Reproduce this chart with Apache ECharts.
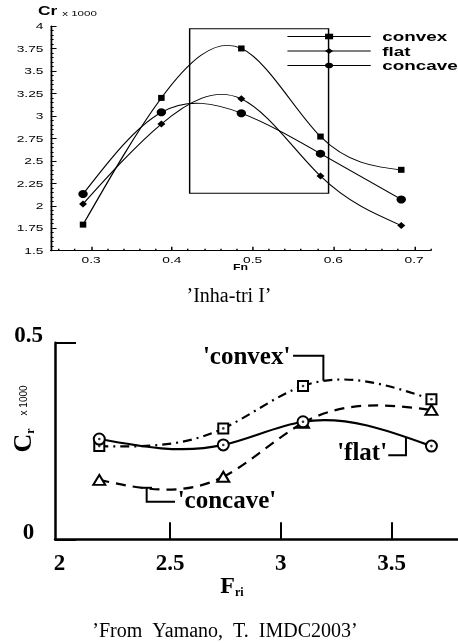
<!DOCTYPE html>
<html>
<head>
<meta charset="utf-8">
<script src="https://cdn.jsdelivr.net/npm/echarts@6/dist/echarts.min.js"></script>
<style>
html, body { margin: 0; padding: 0; background: #fff; }
#wrap { position: relative; width: 458px; height: 643px; overflow: hidden; }
#lower { position: absolute; left: 0; top: 0; width: 458px; height: 643px; }
#upper { position: absolute; left: 0; top: 0; width: 316px; height: 290px;
         transform: scaleX(1.4494); transform-origin: 0 0; }
</style>
</head>
<body>
<div id="wrap"><div id="lower"></div><div id="upper"></div></div>
<script>
// ---- Inha-tri I : residual resistance coefficient vs Froude number ----
const fnValues   = [0.29, 0.387, 0.486, 0.584, 0.684];
const crConvex   = [1.79, 3.20, 3.75, 2.77, 2.40];
const crFlat     = [2.02, 2.91, 3.19, 2.33, 1.78];
const crConcave  = [2.13, 3.04, 3.03, 2.58, 2.07];
const fnMajorTicks = [0.3, 0.4, 0.5, 0.6, 0.7];
const fnMinorTicks = [0.26, 0.28, 0.32, 0.34, 0.36, 0.38, 0.42, 0.44, 0.46, 0.48,
                      0.52, 0.54, 0.56, 0.58, 0.62, 0.64, 0.66, 0.68, 0.72];
// highlighted Fn / Cr window
const windowFn = [0.422, 0.594];
const windowCr = [2.14, 3.97];

// ---- Yamano, IMDC2003 : Cr vs Fri ----
const friValues  = [2.18, 2.74, 3.10, 3.68];
const cfConvex   = [0.237, 0.282, 0.390, 0.356];
const cfFlat     = [0.255, 0.240, 0.299, 0.237];
const cfConcave  = [0.151, 0.159, 0.296, 0.329];
const friLabels  = [2, 2.5, 3, 3.5];
const friTicks   = [2.5, 3, 3.5];

const pairs = (xs, ys) => xs.map((x, i) => [x, ys[i]]);

const SANS = 'Liberation Sans, Arial, sans-serif';
const SERIF = 'Liberation Serif, Times New Roman, serif';

// Slopes of the natural cubic spline through (xs, ys).
function splineSlopes(xs, ys) {
  const n = xs.length, h = [], d = [];
  for (let i = 0; i < n - 1; i++) { h[i] = xs[i + 1] - xs[i]; d[i] = (ys[i + 1] - ys[i]) / h[i]; }
  const M = new Array(n).fill(0);
  if (n > 2) {
    const a = [], b = [], c = [], r = [];
    for (let i = 1; i < n - 1; i++) {
      a.push(h[i - 1]); b.push(2 * (h[i - 1] + h[i])); c.push(h[i]); r.push(6 * (d[i] - d[i - 1]));
    }
    const m = b.length;
    for (let i = 1; i < m; i++) { const w = a[i] / b[i - 1]; b[i] -= w * c[i - 1]; r[i] -= w * r[i - 1]; }
    const sol = new Array(m);
    sol[m - 1] = r[m - 1] / b[m - 1];
    for (let i = m - 2; i >= 0; i--) sol[i] = (r[i] - c[i] * sol[i + 1]) / b[i];
    for (let i = 1; i < n - 1; i++) M[i] = sol[i - 1];
  }
  const s = [];
  for (let i = 0; i < n - 1; i++) s[i] = d[i] - h[i] * (2 * M[i] + M[i + 1]) / 6;
  s[n - 1] = d[n - 2] + h[n - 2] * (M[n - 2] + 2 * M[n - 1]) / 6;
  return s;
}

// Custom series: each item draws the spline piece to the next item as one Bezier.
function splineCurve(xs, ys, style, z) {
  const s = splineSlopes(xs, ys);
  return {
    type: 'custom', data: pairs(xs, ys), encode: { x: 0, y: 1 }, silent: true, z,
    renderItem(params, api) {
      const i = params.dataIndex;
      if (i >= xs.length - 1) return null;
      const hh = (xs[i + 1] - xs[i]) / 3;
      const p0 = api.coord([xs[i], ys[i]]);
      const p1 = api.coord([xs[i + 1], ys[i + 1]]);
      const c0 = api.coord([xs[i] + hh, ys[i] + hh * s[i]]);
      const c1 = api.coord([xs[i + 1] - hh, ys[i + 1] - hh * s[i + 1]]);
      return {
        type: 'bezierCurve',
        shape: { x1: p0[0], y1: p0[1], x2: p1[0], y2: p1[1],
                 cpx1: c0[0], cpy1: c0[1], cpx2: c1[0], cpy2: c1[1] },
        style: Object.assign({ fill: 'none', stroke: '#000' }, style)
      };
    }
  };
}

/* ---------------- upper chart (drawn narrow, widened by CSS) ---------------- */
const upper = echarts.init(document.getElementById('upper'), null,
  { renderer: 'svg', width: 316, height: 290 });

function upperMarks(name, ys, symbol, size, extra) {
  return Object.assign({
    name, type: 'line', data: pairs(fnValues, ys),
    symbol, symbolSize: size, showSymbol: true,
    lineStyle: { color: '#000', width: 1, opacity: 0 },
    itemStyle: { color: '#000', borderWidth: 0 },
    z: 4
  }, extra || {});
}

upper.setOption({
  animation: false,
  textStyle: { fontFamily: SANS, color: '#000' },
  grid: { left: 35, right: 19.1, top: 26, bottom: 39.3, outerBoundsMode: 'none' },
  legend: {
    orient: 'vertical', left: 197.8, top: 30, padding: 0,
    itemWidth: 57.5, itemHeight: 7, itemGap: 1.5, selectedMode: false,
    lineStyle: { color: '#000', width: 1, opacity: 1, type: 'solid' },
    textStyle: { fontFamily: SANS, fontSize: 13, fontWeight: 'bold', color: '#000',
                 lineHeight: 12, padding: [0, 0, 0, 3] },
    data: ['convex', 'flat', 'concave']
  },
  xAxis: [{
    type: 'value', min: 0.25, max: 0.72,
    name: 'Fn', nameLocation: 'middle', nameGap: 12, nameMoveOverlap: false,
    nameTextStyle: { fontFamily: SANS, fontWeight: 'bold', fontSize: 8.5, color: '#000' },
    axisLine: { lineStyle: { color: '#000', width: 1.2 } },
    axisTick: { show: true, inside: true, length: 4, customValues: fnMajorTicks,
                lineStyle: { color: '#000', width: 1 } },
    axisLabel: { customValues: fnMajorTicks, fontFamily: SANS, fontSize: 9.5, margin: 4, color: '#000' },
    splitLine: { show: false }
  }, {
    type: 'value', min: 0.25, max: 0.72, position: 'bottom', offset: 0,
    axisLine: { show: false },
    axisTick: { show: true, inside: true, length: 2, customValues: fnMinorTicks,
                lineStyle: { color: '#000', width: 1 } },
    axisLabel: { show: false },
    splitLine: { show: false }
  }],
  yAxis: {
    type: 'value', min: 1.5, max: 4, interval: 0.25,
    axisLine: { show: true, lineStyle: { color: '#000', width: 1.2 } },
    axisTick: { show: true, inside: true, length: 4, lineStyle: { color: '#000', width: 1 } },
    minorTick: { show: true, splitNumber: 5, length: 2, lineStyle: { color: '#000', width: 1 } },
    axisLabel: { fontFamily: SANS, fontSize: 9.5, margin: 5, color: '#000' },
    splitLine: { show: false }, minorSplitLine: { show: false }
  },
  graphic: [{
    type: 'text', left: 26.2, top: 5,
    style: {
      text: '{a|Cr} {b|x 1000}',
      rich: {
        a: { fontFamily: SANS, fontWeight: 'bold', fontSize: 12, fill: '#000', verticalAlign: 'bottom' },
        b: { fontFamily: SANS, fontSize: 8, fill: '#000', verticalAlign: 'bottom' }
      }
    }
  }],
  series: [
    splineCurve(fnValues, crConvex, { lineWidth: 0.9 }, 3),
    splineCurve(fnValues, crFlat, { lineWidth: 0.9 }, 3),
    splineCurve(fnValues, crConcave, { lineWidth: 0.9 }, 3),
    upperMarks('convex', crConvex, 'rect', [4.5, 6], {
      markArea: {
        silent: true,
        itemStyle: { color: 'rgba(0,0,0,0)', borderColor: '#000', borderWidth: 1 },
        label: { show: false },
        data: [[{ coord: [windowFn[0], windowCr[1]] }, { coord: [windowFn[1], windowCr[0]] }]]
      }
    }),
    upperMarks('flat', crFlat, 'diamond', [5.5, 7]),
    upperMarks('concave', crConcave, 'circle', [6.5, 8])
  ]
});

/* ---------------- lower chart ---------------- */
const lower = echarts.init(document.getElementById('lower'), null,
  { renderer: 'canvas', width: 458, height: 643 });

function lowerMarks(name, ys, symbol, size, z) {
  return {
    name, type: 'line', data: pairs(friValues, ys),
    symbol, symbolSize: size, showSymbol: true,
    lineStyle: { opacity: 0 },
    itemStyle: { color: '#000', borderColor: '#000', borderWidth: 1.8 },
    z
  };
}
function centreDots(ys, z) {
  return {
    type: 'scatter', data: pairs(friValues, ys), symbol: 'circle', symbolSize: 2.6,
    itemStyle: { color: '#000' }, silent: true, z
  };
}

lower.setOption({
  animation: false,
  grid: { left: 55, right: 0, top: 342.7, bottom: 103.7, outerBoundsMode: 'none' },
  xAxis: {
    type: 'value', min: 1.98, max: 3.8,
    axisLine: { lineStyle: { color: '#000', width: 2.5 } },
    axisTick: { show: true, inside: true, length: 17, customValues: friTicks,
                lineStyle: { color: '#000', width: 2 } },
    axisLabel: { customValues: friLabels, fontFamily: SERIF, fontWeight: 'bold',
                 fontSize: 23, margin: 13, color: '#000' },
    splitLine: { show: false }
  },
  yAxis: {
    type: 'value', min: 0, max: 0.5, interval: 0.5,
    axisLine: { show: true, lineStyle: { color: '#000', width: 2.5 } },
    axisTick: { show: true, inside: true, length: 21, lineStyle: { color: '#000', width: 2 } },
    axisLabel: { fontFamily: SERIF, fontWeight: 'bold', fontSize: 23, color: '#000',
                 align: 'center', verticalAlign: 'bottom', lineHeight: 13, margin: 26.5 },
    splitLine: { show: false }
  },
  series: [
    splineCurve(friValues, cfConcave, { lineWidth: 2.2, lineDash: [10, 7] }, 1),
    splineCurve(friValues, cfConvex, { lineWidth: 2.2, lineDash: [9, 5, 2, 5] }, 1),
    splineCurve(friValues, cfFlat, { lineWidth: 2.2 }, 1),
    lowerMarks('concave', cfConcave, 'emptyTriangle', [12, 10], 2),
    lowerMarks('convex', cfConvex, 'emptyRect', [10, 10], 3),
    lowerMarks('flat', cfFlat, 'emptyCircle', 11, 4),
    centreDots(cfConvex, 5),
    centreDots(cfFlat, 6)
  ]
});

// annotation call-outs, positioned in data units of the lower chart
const P = (x, y) => lower.convertToPixel({ gridIndex: 0 }, [x, y]);
const bracket = pts => ({
  type: 'polyline', silent: true,
  shape: { points: pts.map(p => P(p[0], p[1])) },
  style: { stroke: '#000', lineWidth: 2, fill: null }
});
const tag = (text, at, align) => {
  const p = P(at[0], at[1]);
  return {
    type: 'text', x: p[0], y: p[1], silent: true,
    style: { text, fontFamily: SERIF, fontWeight: 'bold', fontSize: 25, fill: '#000',
             align, verticalAlign: 'middle' }
  };
};

lower.setOption({
  graphic: [
    bracket([[3.055, 0.467], [3.192, 0.467], [3.192, 0.403]]),
    tag("'convex'", [3.043, 0.461], 'right'),
    bracket([[3.485, 0.214], [3.565, 0.214], [3.565, 0.258]]),
    tag("'flat'", [3.480, 0.219], 'right'),
    bracket([[2.394, 0.131], [2.394, 0.0956], [2.522, 0.0956]]),
    bracket([[2.372, 0.131], [2.418, 0.131]]),
    tag("'concave'", [2.534, 0.0956], 'left'),
    {
      type: 'text', x: 24, y: 419, rotation: Math.PI / 2, silent: true,
      style: {
        text: '{c|C}{r|r}{k|x 1000}', align: 'center', verticalAlign: 'middle',
        rich: {
          c: { fontFamily: SERIF, fontWeight: 'bold', fontSize: 26, fill: '#000', verticalAlign: 'middle' },
          r: { fontFamily: SERIF, fontWeight: 'bold', fontSize: 12, fill: '#000', verticalAlign: 'bottom' },
          k: { fontFamily: SANS, fontSize: 10, fill: '#000', verticalAlign: 'middle', padding: [0, 0, 0, 13] }
        }
      }
    },
    {
      type: 'text', x: 232, y: 587, silent: true,
      style: {
        text: '{f|F}{s|ri}', align: 'center', verticalAlign: 'middle',
        rich: {
          f: { fontFamily: SERIF, fontWeight: 'bold', fontSize: 24, fill: '#000', verticalAlign: 'middle' },
          s: { fontFamily: SERIF, fontWeight: 'bold', fontSize: 12, fill: '#000', verticalAlign: 'bottom' }
        }
      }
    },
    {
      type: 'text', x: 229, y: 297, silent: true,
      style: { text: '\u2019Inha-tri I\u2019', fontFamily: SERIF, fontSize: 20, fill: '#000',
               align: 'center', verticalAlign: 'middle' }
    },
    {
      type: 'text', x: 225, y: 632, silent: true,
      style: { text: '\u2019From  Yamano,  T.  IMDC2003\u2019', fontFamily: SERIF, fontSize: 20, fill: '#000',
               align: 'center', verticalAlign: 'middle' }
    }
  ]
});
</script>
</body>
</html>
